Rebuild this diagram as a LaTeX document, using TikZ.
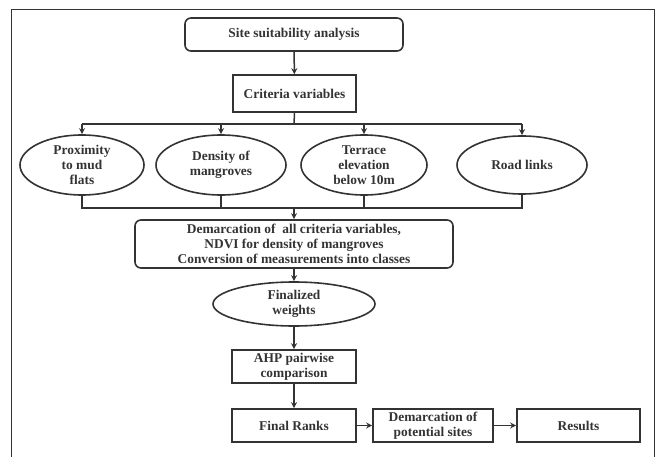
\documentclass[tikz,border=0pt]{standalone}
\usepackage{fontspec}
\setmainfont{Liberation Serif}
\usetikzlibrary{shapes.geometric,arrows.meta}
\definecolor{ink}{HTML}{333333}
\tikzset{
  base/.style={draw=ink, line width=1.6pt, text=ink, inner sep=0pt, align=center, font=\fontsize{13.4}{15}\selectfont\bfseries},
  rbox/.style={base, rectangle, rounded corners=6pt},
  sbox/.style={base, rectangle},
  oval/.style={base, ellipse},
  conn/.style={draw=ink, line width=1.5pt},
  arr/.style={conn, -{Stealth[length=6pt,width=6pt]}},
}
\begin{document}
\begin{tikzpicture}[x=1pt,y=-1pt]
\useasboundingbox (0,0) rectangle (658,457);
% frame
\draw[ink, line width=1pt] (11,457) -- (11,10) -- (654,10) -- (654,457);

\node[rbox, minimum width=218pt, minimum height=33pt] (site) at (294,34.5) {Site suitability analysis};
\node[sbox, minimum width=123pt, minimum height=37pt] (crit) at (294.5,93.5) {Criteria variables};

\node[oval, minimum width=124pt, minimum height=60pt] (prox) at (82,165) {Proximity\\to mud\\flats};
\node[oval, minimum width=130pt, minimum height=60pt] (dens) at (221,165) {Density of\\mangroves};
\node[oval, minimum width=126pt, minimum height=60pt] (terr) at (364,165) {Terrace\\elevation\\below 10m};
\node[oval, minimum width=130pt, minimum height=58pt] (road) at (522,165) {Road links};

\node[rbox, minimum width=318pt, minimum height=48pt] (dem) at (294,244) {Demarcation of\ \ all criteria variables,\\NDVI for density of mangroves\\Conversion of measurements into classes};
\node[oval, minimum width=162pt, minimum height=44pt] (fin) at (294,304) {Finalized\\weights};
\node[sbox, minimum width=124pt, minimum height=33pt] (ahp) at (294,366.5) {AHP pairwise\\comparison};
\node[sbox, minimum width=124pt, minimum height=33pt] (rank) at (294,425.5) {Final Ranks};
\node[sbox, minimum width=120pt, minimum height=33pt] (pot) at (433,425.5) {Demarcation of\\potential sites};
\node[sbox, minimum width=123pt, minimum height=33pt] (res) at (578.5,425.5) {Results};

\coordinate (bt) at (294,124);
\coordinate (bb) at (294,208);

\draw[arr] (site) -- (crit);
\draw[conn] (crit.south) -- (bt);
\draw[conn] (prox.north |- bt) -- (road.north |- bt);
\draw[arr] (prox.north |- bt) -- (prox.north);
\draw[arr] (dens.north |- bt) -- (dens.north);
\draw[arr] (terr.north |- bt) -- (terr.north);
\draw[arr] (road.north |- bt) -- (road.north);

\draw[conn] (prox.south) -- (prox.south |- bb) -- (road.south |- bb) -- (road.south);
\draw[conn] (dens.south) -- (dens.south |- bb);
\draw[conn] (terr.south) -- (terr.south |- bb);
\draw[arr] (bb) -- (dem.north);

\draw[arr] (dem) -- (fin);
\draw[arr] (fin) -- (ahp);
\draw[arr] (ahp) -- (rank);
\draw[arr] (rank) -- (pot);
\draw[arr] (pot) -- (res);
\end{tikzpicture}
\end{document}
